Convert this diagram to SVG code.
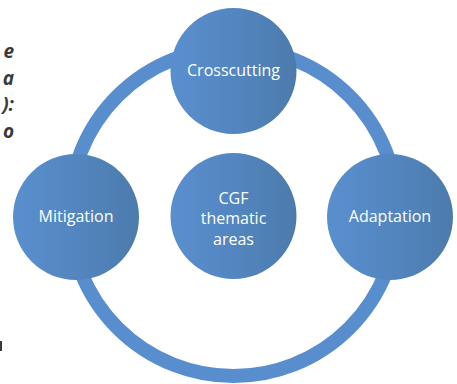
<svg xmlns="http://www.w3.org/2000/svg" width="457" height="384" viewBox="0 0 457 384">
  <defs>
    <linearGradient id="nodeGrad" x1="0" y1="0" x2="1" y2="0">
      <stop offset="0" stop-color="#5A8FCF"/>
      <stop offset="0.5" stop-color="#5386C0"/>
      <stop offset="1" stop-color="#4C7BAB"/>
    </linearGradient>
  </defs>
  <style>
    .node { fill: url(#nodeGrad); }
    .label { font-family: "Open Sans", "Noto Sans", sans-serif; font-size: 16px; fill: #FFFFFF; text-anchor: middle; }
    .side { font-family: "Open Sans", "Liberation Sans", sans-serif; font-size: 19px; font-weight: bold; font-style: italic; fill: #3A3A3A; text-anchor: end; }
    .ring { fill: none; stroke: #598ECE; stroke-width: 14; }
  </style>
  <rect width="457" height="384" fill="#FFFFFF"/>
  <g id="side-text">
    <text class="side" x="14" y="58">e</text>
    <text class="side" x="14" y="84.5">a</text>
    <text class="side" x="14" y="111">):</text>
    <text class="side" x="14" y="137.5">o</text>
    <rect x="0" y="341" width="2" height="10" fill="#3A3A3A"/>
  </g>
  <g id="connectors">
    <circle class="ring" cx="233.5" cy="212" r="164"/>
  </g>
  <g id="node-crosscutting">
    <circle class="node" cx="233.5" cy="71" r="63"/>
    <text class="label" x="233.5" y="76">Crosscutting</text>
  </g>
  <g id="node-mitigation">
    <circle class="node" cx="76" cy="217" r="63"/>
    <text class="label" x="76" y="222">Mitigation</text>
  </g>
  <g id="node-adaptation">
    <circle class="node" cx="390" cy="217" r="63"/>
    <text class="label" x="390" y="222">Adaptation</text>
  </g>
  <g id="node-cgf">
    <circle class="node" cx="233.5" cy="216" r="63"/>
    <text class="label" x="233.5" y="203.5">CGF</text>
    <text class="label" x="233.5" y="224">thematic</text>
    <text class="label" x="233.5" y="244.5">areas</text>
  </g>
</svg>
